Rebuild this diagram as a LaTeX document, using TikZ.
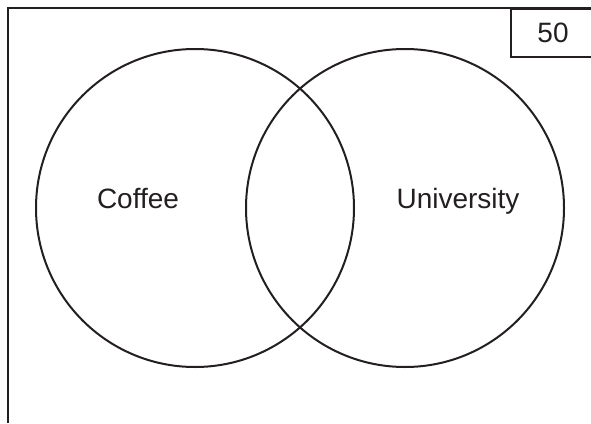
\documentclass[tikz,border=0pt]{standalone}
\usepackage{fontspec}
\setmainfont{Liberation Sans}
\usepackage{tikz}
\usetikzlibrary{positioning}
\definecolor{inkline}{HTML}{231F20}

\begin{document}
\begin{tikzpicture}[
  x=1pt, y=-1pt,
  set/.style={draw=inkline, circle, line width=2pt, minimum size=318pt, inner sep=0pt},
  lbl/.style={font=\fontsize{28}{32}\selectfont, text=inkline, inner sep=0pt, anchor=base},
  tag/.style={draw=inkline, line width=2pt, anchor=north west, minimum width=84pt, minimum height=48pt, font=\fontsize{28}{32}\selectfont, text=inkline}
]
  \useasboundingbox (0,0) rectangle (591,423);
  % universe frame
  \draw[inkline, line width=2pt] (8,423) -- (8,8) -- (591,8);
  \node[tag] (total) at (510,8) {50};

  \node[set] (coffee) at (195,208) {};
  \node[set] (univ) at (405,208) {};

  \node[lbl] (coffeelbl) at (138,208) {Coffee};
  \node[lbl] (univlbl) at (458,208) {University};
\end{tikzpicture}
\end{document}
